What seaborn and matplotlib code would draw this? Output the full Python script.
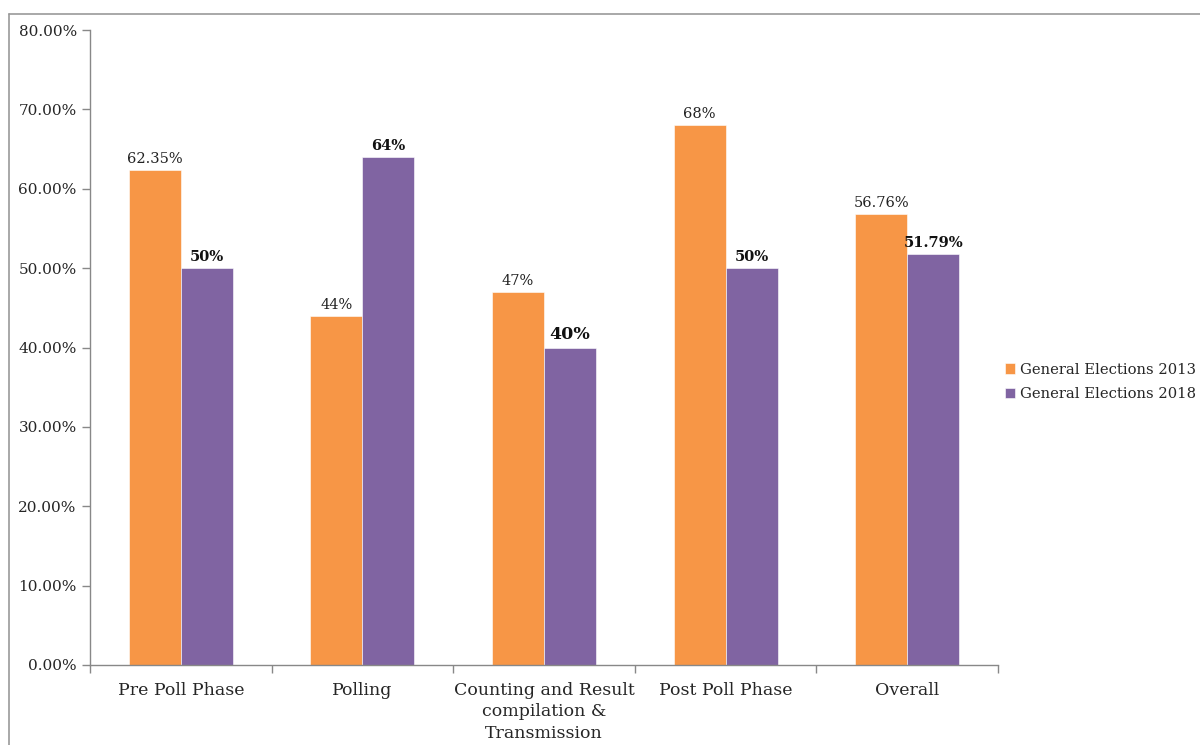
import pandas as pd
import seaborn as sns
import matplotlib.pyplot as plt
from matplotlib.lines import Line2D
from matplotlib.ticker import FuncFormatter, MultipleLocator

# data
phases = ['Pre Poll Phase', 'Polling', 'Counting and Result\ncompilation &\nTransmission',
          'Post Poll Phase', 'Overall']
ge2013 = [62.35, 44, 47, 68, 56.76]
ge2018 = [50, 64, 40, 50, 51.79]
labels2013 = ['62.35%', '44%', '47%', '68%', '56.76%']
labels2018 = ['50%', '64%', '40%', '50%', '51.79%']
series = ['General Elections 2013', 'General Elections 2018']

df = pd.DataFrame({
    'Phase': phases * 2,
    'Value': ge2013 + ge2018,
    'Series': [series[0]] * 5 + [series[1]] * 5,
})

sns.set_style('white')
plt.rcParams['font.family'] = ['DejaVu Serif']

fig = plt.figure(figsize=(12, 7.45), dpi=100)
ax = fig.add_axes([0.075, 0.1074, 0.7567, 0.8523])

sns.barplot(data=df, x='Phase', y='Value', hue='Series',
            palette=['#F79646', '#8064A2'], width=0.573, ax=ax,
            saturation=1, edgecolor='white', linewidth=0.4)

# data labels: 2013 normal, 2018 bold
ax.bar_label(ax.containers[0], labels=labels2013, padding=3, fontsize=10.5, color='#222222')
for bar, lab in zip(ax.containers[1], labels2018):
    ax.annotate(lab, (bar.get_x() + bar.get_width() / 2, bar.get_height()),
                xytext=(0, 3), textcoords='offset points', ha='center', va='bottom',
                fontsize=12.5 if lab == '40%' else 10.5, fontweight='bold', color='#111111')

ax.set_ylim(0, 80)
ax.set_xlim(-0.5, 4.5)
ax.yaxis.set_major_locator(MultipleLocator(10))
ax.yaxis.set_major_formatter(FuncFormatter(lambda v, p: f'{v:.2f}%'))
ax.set_xticks([x - 0.5 for x in range(6)], minor=True)
ax.tick_params(axis='x', which='major', length=0, labelsize=12.5, pad=12)
ax.tick_params(axis='x', which='minor', length=6, color='#888888', width=1, bottom=True)
ax.tick_params(axis='y', length=6, color='#888888', width=1, left=True, labelsize=11)
for t in ax.get_xticklabels():
    t.set_linespacing(1.35)
ax.set_xlabel('')
ax.set_ylabel('')
for s in ['top', 'right']:
    ax.spines[s].set_visible(False)
for s in ['left', 'bottom']:
    ax.spines[s].set_color('#888888')
    ax.spines[s].set_linewidth(1)

ax.legend(loc='center left', bbox_to_anchor=(0.998, 0.446), frameon=False,
          fontsize=10.6, handlelength=0.7, handleheight=0.7, handletextpad=0.3,
          labelspacing=0.7, borderaxespad=0.2)

# outer chart border
fig.add_artist(Line2D([0.0075, 1.0], [0.981, 0.981], color='#999999', lw=1.2,
                      transform=fig.transFigure))
fig.add_artist(Line2D([0.0075, 0.0075], [0.0, 0.981], color='#999999', lw=1.2,
                      transform=fig.transFigure))

plt.savefig('out.png', dpi=100)
